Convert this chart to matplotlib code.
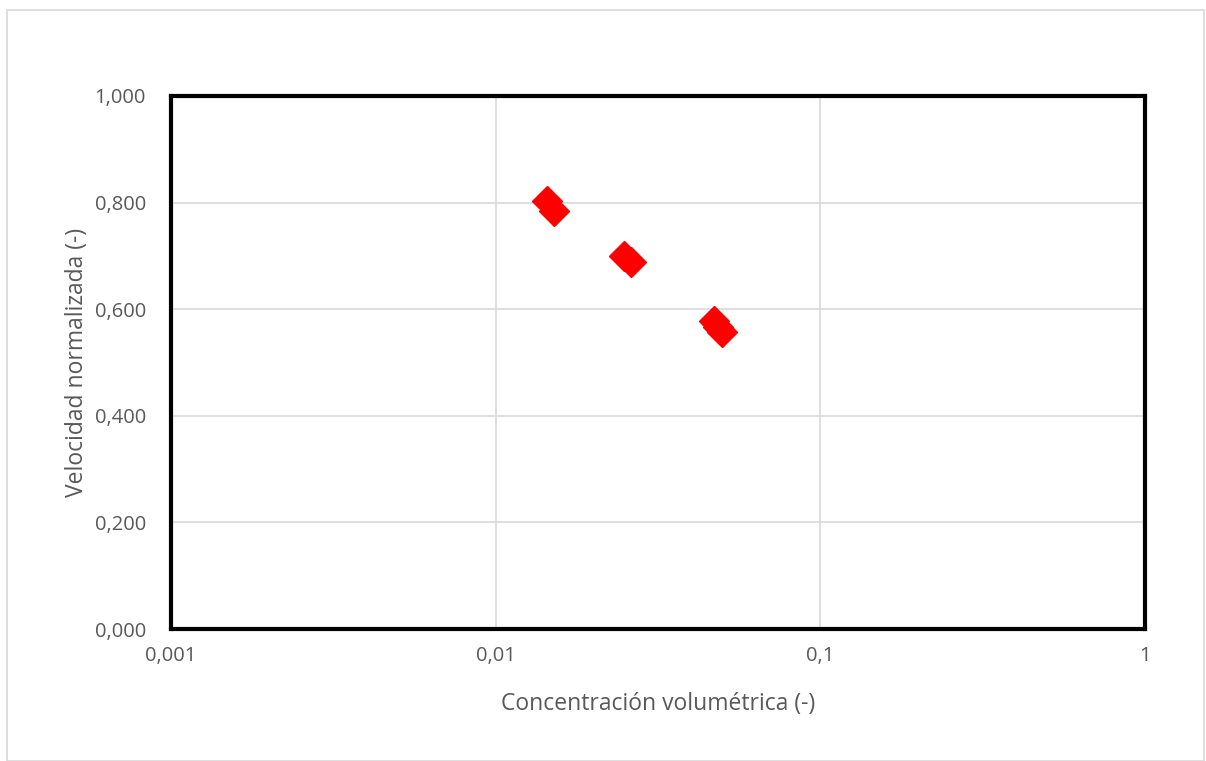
import matplotlib
matplotlib.use("Agg")
import matplotlib.pyplot as plt
from matplotlib.patches import Rectangle
from matplotlib.ticker import FixedLocator, FuncFormatter

# concentracion volumetrica vs velocidad normalizada
conc = [0.0144, 0.0151, 0.0248, 0.0261, 0.0470, 0.0484, 0.0498]
vel = [0.803, 0.784, 0.700, 0.689, 0.578, 0.566, 0.557]

x_ticks = [0.001, 0.01, 0.1, 1]
x_labels = ["0,001", "0,01", "0,1", "1"]
y_ticks = [0.0, 0.2, 0.4, 0.6, 0.8, 1.0]

plt.rcParams['font.family'] = ['Open Sans', 'DejaVu Sans']

W, H = 1206, 761
fig = plt.figure(figsize=(W / 100, H / 100), dpi=100)
fig.patches.append(Rectangle((7 / W, 0), (1197) / W, (H - 10) / H, transform=fig.transFigure,
                             fill=False, edgecolor="#d9d9d9", linewidth=1.2))

ax = fig.add_axes([171 / W, 1 - 629 / H, (1145 - 171) / W, (629 - 96) / H])
ax.set_xscale("log")
ax.set_xlim(0.001, 1)
ax.set_ylim(0, 1)

ax.plot(conc, vel, linestyle="none", marker="D", markersize=15, color="#ff0000", zorder=3)

ax.xaxis.set_major_locator(FixedLocator(x_ticks))
ax.xaxis.set_minor_locator(FixedLocator([]))
ax.set_xticklabels(x_labels)
ax.yaxis.set_major_locator(FixedLocator(y_ticks))
ax.yaxis.set_major_formatter(FuncFormatter(lambda v, p: ("%.3f" % v).replace(".", ",")))

ax.grid(True, color="#d9d9d9", linewidth=1.2)
ax.set_axisbelow(True)
ax.tick_params(length=0, labelsize=14.5, labelcolor="#595959")
ax.tick_params(axis="x", pad=12)
ax.tick_params(axis="y", pad=18)
for s in ax.spines.values():
    s.set_linewidth(3)
    s.set_color("black")

ax.set_xlabel("Concentración volumétrica (-)", fontsize=16.5, color="#595959", labelpad=19)
ax.set_ylabel("Velocidad normalizada (-)", fontsize=16.5, color="#595959", labelpad=4)

fig.savefig("out.png", dpi=100)
